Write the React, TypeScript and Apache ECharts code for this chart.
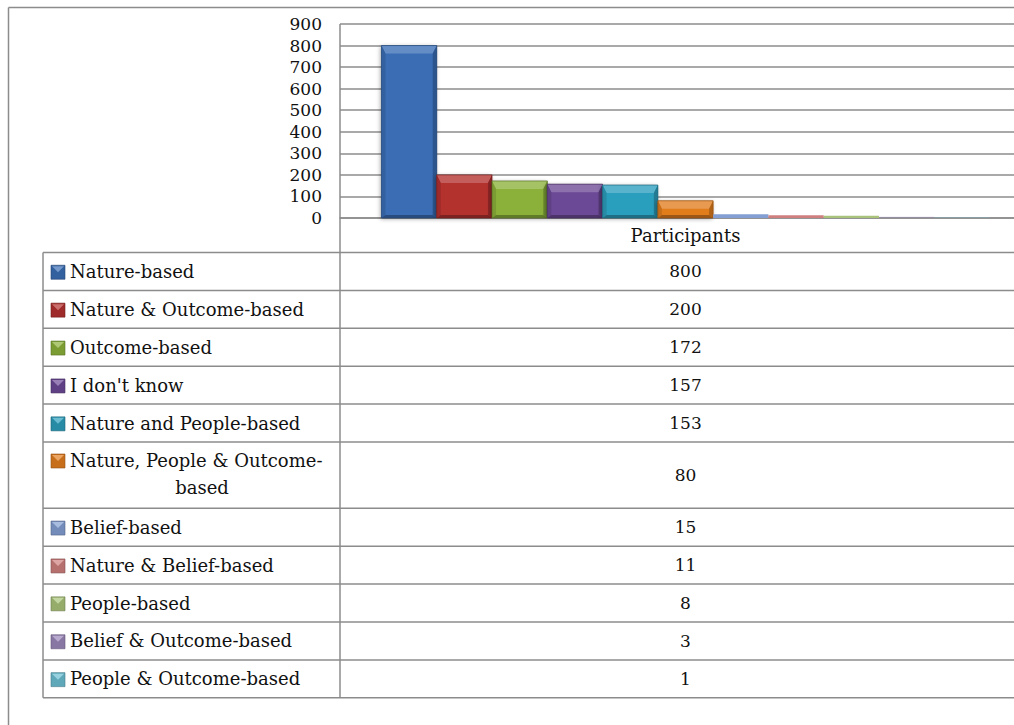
import React, { useEffect, useRef } from 'react';
import * as echarts from 'echarts';

// ---- data ----
const categories = ['Participants'];
const seriesNames = [
  'Nature-based',
  'Nature & Outcome-based',
  'Outcome-based',
  "I don't know",
  'Nature and People-based',
  'Nature, People & Outcome-based',
  'Belief-based',
  'Nature & Belief-based',
  'People-based',
  'Belief & Outcome-based',
  'People & Outcome-based',
];
const values = [800, 200, 172, 157, 153, 80, 15, 11, 8, 3, 1];
const colors = [
  '#3a6db5',
  '#b3312f',
  '#8bb13a',
  '#6c4996',
  '#2c9ebd',
  '#e27d1e',
  '#839fd3',
  '#cf7f7d',
  '#a9c47a',
  '#9a86b9',
  '#6cbfd3',
];
const yMin = 0;
const yMax = 900;
const yInterval = 100;

// ---- layout ----
const CHART_W = 1060;
const CHART_H = 725;
const GRID_LEFT = 340;
const GRID_TOP = 24;
const GRID_RIGHT = 29;
const ZERO_Y = 218;
const TABLE_LEFT = 43;
const TABLE_TOP = 252.5;
const ROW_H = 37.9;
const ROW_H2 = 66.3;
const KEY_X = 51;
const KEY_SIZE = 14;
const TEXT_X = 70;
const FONT = "'DejaVu Serif', serif";
const LINE = '#8c8c8c';
const TEXT = '#111';
const CAT_GAP = 0.12;

function mix(hex: string, t: number): string {
  const n = parseInt(hex.slice(1), 16);
  let r = (n >> 16) & 255;
  let g = (n >> 8) & 255;
  let b = n & 255;
  const target = t > 0 ? 255 : 0;
  const a = Math.abs(t);
  r = Math.round(r + (target - r) * a);
  g = Math.round(g + (target - g) * a);
  b = Math.round(b + (target - b) * a);
  return `rgb(${r},${g},${b})`;
}

function wrapLabel(name: string): string[] {
  if (name.length > 26) {
    const k = name.lastIndexOf('-') + 1;
    return [name.slice(0, k), name.slice(k)];
  }
  return [name];
}

function txt(x: number, y: number, text: string, size: number, align: string) {
  return {
    type: 'text',
    x,
    y,
    silent: true,
    style: {
      text,
      fill: TEXT,
      fontSize: size,
      fontFamily: FONT,
      align,
      verticalAlign: 'middle',
      textAlign: align,
      textVerticalAlign: 'middle',
    },
  };
}

function buildGraphic() {
  const els: any[] = [];
  const line = (x1: number, y1: number, x2: number, y2: number) =>
    els.push({
      type: 'line',
      silent: true,
      shape: { x1, y1, x2, y2 },
      style: { stroke: LINE, lineWidth: 1.5 },
    });
  // outer chart border
  line(8.5, 7.5, CHART_W, 7.5);
  line(8.5, 7.5, 8.5, CHART_H);

  const plotCenter = GRID_LEFT + (CHART_W - GRID_RIGHT - GRID_LEFT) / 2;
  let y = TABLE_TOP;
  const bounds = [y];
  seriesNames.forEach((name, i) => {
    const lines = wrapLabel(name);
    const h = lines.length > 1 ? ROW_H2 : ROW_H;
    const c = colors[i];
    const keyCy = lines.length > 1 ? y + 19 : y + h / 2 + 0.8;
    const ky = keyCy - KEY_SIZE / 2;
    els.push({
      type: 'rect',
      silent: true,
      shape: { x: KEY_X, y: ky, width: KEY_SIZE, height: KEY_SIZE },
      style: { fill: mix(c, -0.12), stroke: mix(c, -0.35), lineWidth: 0.6 },
    });
    els.push({
      type: 'polygon',
      silent: true,
      shape: {
        points: [
          [KEY_X + 1, ky + 1],
          [KEY_X + KEY_SIZE - 1, ky + 1],
          [KEY_X + KEY_SIZE / 2, ky + KEY_SIZE / 2],
        ],
      },
      style: { fill: mix(c, 0.3) },
    });
    if (lines.length > 1) {
      els.push(txt(TEXT_X, y + 18.5, lines[0], 18, 'left'));
      els.push(txt(202, y + 18.5 + 27.3, lines[1], 18, 'center'));
    } else {
      els.push(txt(TEXT_X, y + h / 2, lines[0], 18, 'left'));
    }
    els.push(txt(plotCenter, y + h / 2, String(values[i]), 17, 'center'));
    y += h;
    bounds.push(y);
  });
  bounds.forEach((by) => line(TABLE_LEFT, by, CHART_W, by));
  line(TABLE_LEFT, TABLE_TOP, TABLE_LEFT, y);
  line(GRID_LEFT, GRID_TOP, GRID_LEFT, y);
  return els;
}

function renderBar(params: any, api: any) {
  const idx = api.value(2);
  const val = api.value(1);
  const base = api.coord([api.value(0), 0]);
  const top = api.coord([api.value(0), val]);
  const band = api.size([1, 0])[0];
  const total = band * (1 - CAT_GAP);
  const w = total / seriesNames.length;
  const x = base[0] - total / 2 + idx * w;
  const yTop = top[1];
  const h = base[1] - top[1];
  const c = colors[idx];
  if (h < 8) {
    // too thin for a bevel: a flat strip in the series colour
    return {
      type: 'rect',
      shape: { x, y: yTop - 0.5, width: w, height: h + 0.5 },
      style: { fill: c, opacity: h < 1 ? 0.35 : 1 },
    };
  }
  const bt = Math.min(8, h / 2);
  const bs = Math.min(4, w / 2);
  const bb = Math.min(3, h / 2);
  return {
    type: 'group',
    children: [
      {
        type: 'rect',
        shape: { x, y: yTop, width: w, height: h },
        style: {
          fill: c,
          shadowBlur: 4,
          shadowColor: 'rgba(0,0,0,0.35)',
          shadowOffsetX: -1,
          shadowOffsetY: 1,
        },
      },
      {
        type: 'polygon',
        shape: { points: [[x, yTop], [x + w, yTop], [x + w - bs, yTop + bt], [x + bs, yTop + bt]] },
        style: { fill: mix(c, 0.22) },
      },
      {
        type: 'polygon',
        shape: { points: [[x, yTop], [x + bs, yTop + bt], [x + bs, yTop + h - bb], [x, yTop + h]] },
        style: { fill: mix(c, -0.12) },
      },
      {
        type: 'polygon',
        shape: { points: [[x + w, yTop], [x + w - bs, yTop + bt], [x + w - bs, yTop + h - bb], [x + w, yTop + h]] },
        style: { fill: mix(c, -0.22) },
      },
      {
        type: 'polygon',
        shape: { points: [[x, yTop + h], [x + bs, yTop + h - bb], [x + w - bs, yTop + h - bb], [x + w, yTop + h]] },
        style: { fill: mix(c, -0.3) },
      },
      {
        type: 'rect',
        shape: { x, y: yTop, width: w, height: h },
        style: { fill: 'none', stroke: mix(c, -0.35), lineWidth: 0.7 },
      },
    ],
  };
}

export default function App() {
  const ref = useRef<HTMLDivElement>(null);
  useEffect(() => {
    if (!ref.current) return;
    const chart = echarts.init(ref.current, null, { renderer: 'svg' });
    chart.setOption({
      animation: false,
      backgroundColor: '#fff',
      grid: {
        left: GRID_LEFT,
        top: GRID_TOP,
        right: GRID_RIGHT,
        bottom: CHART_H - ZERO_Y,
        containLabel: false,
      },
      xAxis: {
        type: 'category',
        data: categories,
        axisLine: { show: true, lineStyle: { color: LINE, width: 1.5 } },
        axisTick: { show: false },
        axisLabel: {
          color: TEXT,
          fontSize: 18,
          fontFamily: FONT,
          margin: 6,
          lineHeight: 22,
        },
      },
      yAxis: {
        type: 'value',
        min: yMin,
        max: yMax,
        interval: yInterval,
        axisLine: { show: false },
        axisTick: { show: false },
        axisLabel: { color: TEXT, fontSize: 17, fontFamily: FONT, margin: 18 },
        splitLine: { show: true, lineStyle: { color: LINE, width: 1.5 } },
      },
      series: [
        {
          type: 'custom',
          renderItem: renderBar,
          data: values.map((v, i) => [0, v, i]),
          encode: { x: 0, y: 1 },
          z: 3,
        },
      ],
      graphic: buildGraphic(),
    });
    return () => chart.dispose();
  }, []);
  return (
    <div
      style={{
        position: 'fixed',
        left: 0,
        top: 0,
        width: 1014,
        height: 725,
        overflow: 'hidden',
        background: '#fff',
      }}
    >
      <div ref={ref} style={{ width: CHART_W, height: CHART_H }} />
    </div>
  );
}
